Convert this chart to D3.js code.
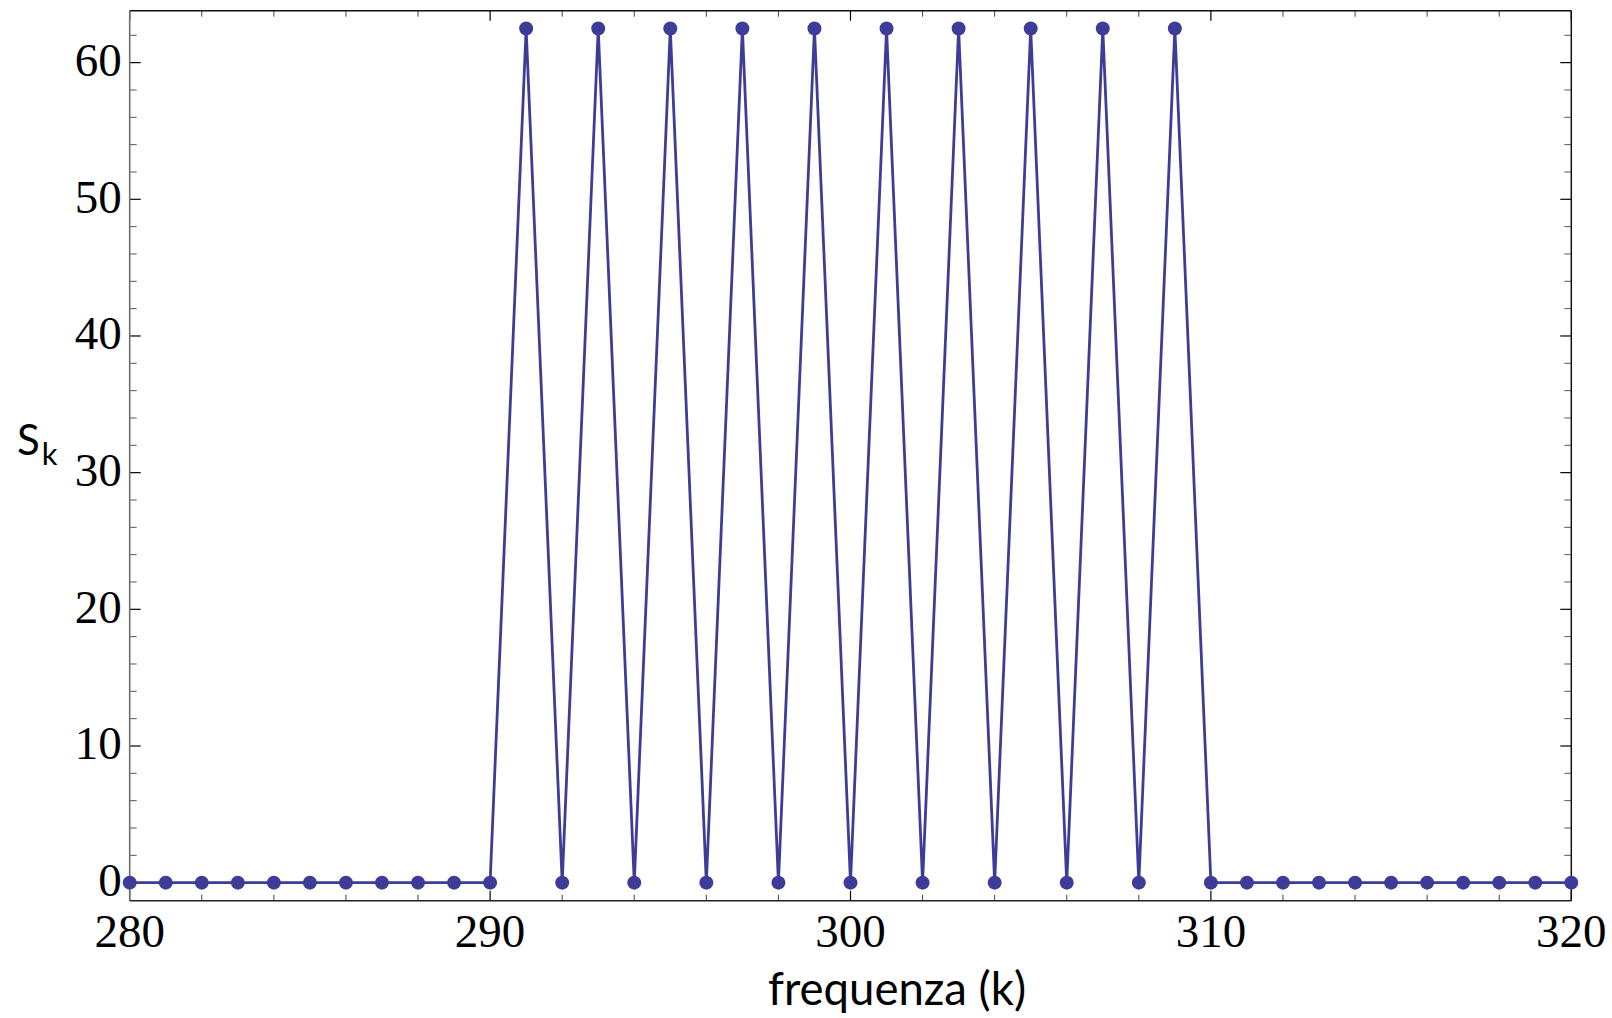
<!DOCTYPE html>
<html>
<head>
<meta charset="utf-8">
<script src="https://cdn.jsdelivr.net/npm/d3@7"></script>
<style>
  body { margin: 0; background: #fff; }
  .tick-label { font-family: "Liberation Serif", "Times New Roman", serif; font-size: 47px; fill: #000; }
  .label { font-family: Lato, "Open Sans", sans-serif; fill: #000; }
</style>
</head>
<body>
<svg id="chart"></svg>
<script>
// frequency index k
var freq = [];
for (var k = 280; k <= 320; k++) freq.push(k);
// spectrum values
var spectrum = [
  0, 0, 0, 0, 0, 0, 0, 0, 0, 0,   // 280-289
  0, 62.5, 0, 62.5, 0, 62.5, 0, 62.5, 0, 62.5, // 290-299
  0, 62.5, 0, 62.5, 0, 62.5, 0, 62.5, 0, 62.5, // 300-309
  0, 0, 0, 0, 0, 0, 0, 0, 0, 0, 0  // 310-320
];
var xTicks = [280, 290, 300, 310, 320];
var yTicks = [0, 10, 20, 30, 40, 50, 60];

var data = freq.map(function(f, i) { return [f, spectrum[i]]; });

var w = 1612;
var h = 1018;
var padding = {
  top: 10.7,
  bottom: 117.3,
  left: 129.7,
  right: 40.7
};

var svg = d3.select("#chart")
  .attr("width", w)
  .attr("height", h);

var xScale = d3.scaleLinear()
  .domain([280, 320])
  .range([padding.left, w - padding.right]);

var yScale = d3.scaleLinear()
  .domain([-1.32, 63.8])
  .range([h - padding.bottom, padding.top]);

var x0 = padding.left, x1 = w - padding.right;
var y0 = h - padding.bottom, y1 = padding.top;

// minor ticks every 2 units
var xMinor = d3.range(280, 321, 2).filter(function(v) { return v % 10 != 0; });
var yMinor = d3.range(0, 64, 2).filter(function(v) { return v % 10 != 0; });

var ticks = svg.append("g");
// bottom & top
xTicks.forEach(function(v) {
  ticks.append("line").attr("x1", xScale(v)).attr("x2", xScale(v))
    .attr("y1", y0).attr("y2", y0 - 10).attr("stroke", "#000").attr("stroke-width", 1.2);
  ticks.append("line").attr("x1", xScale(v)).attr("x2", xScale(v))
    .attr("y1", y1).attr("y2", y1 + 10).attr("stroke", "#000").attr("stroke-width", 1.2);
});
xMinor.forEach(function(v) {
  ticks.append("line").attr("x1", xScale(v)).attr("x2", xScale(v))
    .attr("y1", y0).attr("y2", y0 - 6).attr("stroke", "#444").attr("stroke-width", 1);
  ticks.append("line").attr("x1", xScale(v)).attr("x2", xScale(v))
    .attr("y1", y1).attr("y2", y1 + 6).attr("stroke", "#444").attr("stroke-width", 1);
});
// left & right
yTicks.forEach(function(v) {
  ticks.append("line").attr("y1", yScale(v)).attr("y2", yScale(v))
    .attr("x1", x0).attr("x2", x0 + 11).attr("stroke", "#000").attr("stroke-width", 1.2);
  ticks.append("line").attr("y1", yScale(v)).attr("y2", yScale(v))
    .attr("x1", x1).attr("x2", x1 - 11).attr("stroke", "#000").attr("stroke-width", 1.2);
});
yMinor.forEach(function(v) {
  ticks.append("line").attr("y1", yScale(v)).attr("y2", yScale(v))
    .attr("x1", x0).attr("x2", x0 + 7).attr("stroke", "#555").attr("stroke-width", 1);
  ticks.append("line").attr("y1", yScale(v)).attr("y2", yScale(v))
    .attr("x1", x1).attr("x2", x1 - 7).attr("stroke", "#555").attr("stroke-width", 1);
});

// frame
svg.append("line").attr("x1", x0).attr("x2", x1).attr("y1", y1).attr("y2", y1)
  .attr("stroke", "#111").attr("stroke-width", 1.5);
svg.append("line").attr("x1", x1).attr("x2", x1).attr("y1", y1).attr("y2", y0)
  .attr("stroke", "#111").attr("stroke-width", 1.5);
svg.append("line").attr("x1", x0).attr("x2", x1).attr("y1", y0).attr("y2", y0)
  .attr("stroke", "#222").attr("stroke-width", 1.5);
svg.append("line").attr("x1", x0).attr("x2", x0).attr("y1", y1).attr("y2", y0)
  .attr("stroke", "#6e6e6e").attr("stroke-width", 1.6);

// tick labels
svg.selectAll(".xlab")
  .data(xTicks)
  .enter()
  .append("text")
  .attr("class", "tick-label")
  .attr("x", function(d) { return xScale(d); })
  .attr("y", y0 + 46)
  .attr("text-anchor", "middle")
  .text(function(d) { return d; });

svg.selectAll(".ylab")
  .data(yTicks)
  .enter()
  .append("text")
  .attr("class", "tick-label")
  .attr("x", x0 - 8)
  .attr("y", function(d) { return yScale(d) + 13.5; })
  .attr("text-anchor", "end")
  .text(function(d) { return d; });

// series
var line = d3.line()
  .x(function(d) { return xScale(d[0]); })
  .y(function(d) { return yScale(d[1]); });

svg.append("path")
  .datum(data)
  .attr("d", line)
  .attr("fill", "none")
  .attr("stroke", "#3d3d99")
  .attr("stroke-width", 2.8)
  .attr("stroke-linejoin", "miter");

svg.selectAll("circle")
  .data(data)
  .enter()
  .append("circle")
  .attr("cx", function(d) { return xScale(d[0]); })
  .attr("cy", function(d) { return yScale(d[1]); })
  .attr("r", 7)
  .attr("fill", "#3d3d99");

//axis labels
svg.append("text")
  .attr("class", "label")
  .attr("x", 897)
  .attr("y", 1005)
  .attr("text-anchor", "middle")
  .attr("font-size", "45.5px")
  .text("frequenza (k)");

var yl = svg.append("text")
  .attr("class", "label")
  .attr("x", 17)
  .attr("y", 455)
  .attr("font-size", "42px");
yl.append("tspan").text("S");
yl.append("tspan").attr("font-size", "31px").attr("dy", 10).attr("dx", 2).text("k");
</script>
</body>
</html>
